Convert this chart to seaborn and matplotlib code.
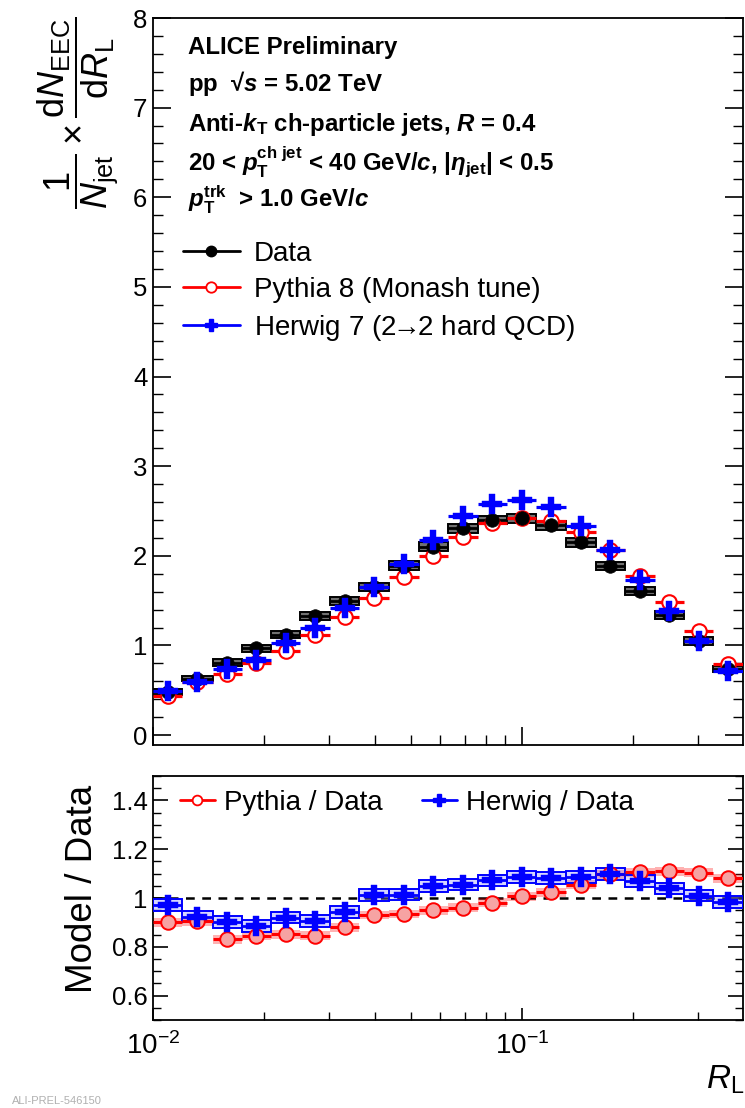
import numpy as np
import pandas as pd
import matplotlib
matplotlib.use("Agg")
import matplotlib.pyplot as plt
from matplotlib.lines import Line2D
from matplotlib.ticker import FixedLocator, FixedFormatter, NullFormatter, LogLocator
import seaborn as sns

# ---------------- data ----------------
rl_edges = [0.0100, 0.0120, 0.0145, 0.0174, 0.0209, 0.0251, 0.0302, 0.0363,
            0.0437, 0.0525, 0.0631, 0.0759, 0.0912, 0.1096, 0.1318, 0.1585,
            0.1905, 0.2291, 0.2754, 0.3311, 0.3981]
data_vals = [0.48, 0.63, 0.81, 0.97, 1.12, 1.33, 1.50, 1.65, 1.89, 2.10,
             2.31, 2.40, 2.42, 2.34, 2.15, 1.885, 1.61, 1.34, 1.05, 0.74]
data_sys = [0.03, 0.03, 0.035, 0.04, 0.04, 0.045, 0.045, 0.045, 0.05, 0.05,
            0.05, 0.05, 0.05, 0.05, 0.05, 0.045, 0.045, 0.04, 0.04, 0.035]
pythia_vals = [0.44, 0.59, 0.68, 0.81, 0.94, 1.12, 1.32, 1.535, 1.76, 2.00,
               2.21, 2.37, 2.42, 2.39, 2.27, 2.06, 1.78, 1.49, 1.16, 0.79]
herwig_vals = [0.49, 0.59, 0.74, 0.84, 1.03, 1.20, 1.42, 1.65, 1.91, 2.18,
               2.44, 2.58, 2.62, 2.54, 2.33, 2.06, 1.73, 1.38, 1.05, 0.71]
ratio_pythia = [0.90, 0.905, 0.83, 0.845, 0.852, 0.845, 0.88, 0.93, 0.934, 0.95,
                0.96, 0.98, 1.007, 1.023, 1.055, 1.097, 1.106, 1.11, 1.103, 1.08]
ratio_pythia_err = [0.018] * 20
ratio_herwig = [0.972, 0.924, 0.903, 0.886, 0.92, 0.906, 0.942, 1.011, 1.014, 1.048,
                1.055, 1.072, 1.087, 1.083, 1.087, 1.099, 1.069, 1.039, 1.01, 0.983]
ratio_herwig_err = [0.024] * 20

header_lines = [
    "ALICE Preliminary",
    r"pp  √$\mathbfit{s}$ = 5.02 TeV",
    r"Anti-$\mathbfit{k}_{\mathbf{T}}$ ch-particle jets, $\mathbfit{R}$ = 0.4",
    r"20 < $\mathbfit{p}_{\mathbf{T}}^{\mathbf{ch\ jet}}$ < 40 GeV/$\mathbfit{c}$, |$\mathbfit{\eta}_{\mathbf{jet}}$| < 0.5",
    r"$\mathbfit{p}_{\mathbf{T}}^{\mathbf{trk}}$  > 1.0 GeV/$\mathbfit{c}$",
]
legend_top = ["Data", "Pythia 8 (Monash tune)", r"Herwig 7 (2$\!\!\rightarrow\!\!$2 hard QCD)"]
legend_bottom = ["Pythia / Data", "Herwig / Data"]

# ---------------- style ----------------
sns.set_theme(style="ticks")
plt.rcParams["font.family"] = ["Liberation Sans", "DejaVu Sans"]
plt.rcParams["mathtext.fontset"] = "custom"
plt.rcParams["mathtext.rm"] = "Liberation Sans"
plt.rcParams["mathtext.it"] = "Liberation Sans:italic"
plt.rcParams["mathtext.bf"] = "Liberation Sans:bold"
if "mathtext.bfit" in plt.rcParams:
    plt.rcParams["mathtext.bfit"] = "Liberation Sans:bold:italic"
plt.rcParams["axes.linewidth"] = 1.3
for key in ["text.color", "axes.labelcolor", "axes.edgecolor", "xtick.color", "ytick.color"]:
    plt.rcParams[key] = "black"

edges = np.array(rl_edges)
lo, hi = edges[:-1], edges[1:]
centers = np.sqrt(lo * hi)
df = pd.DataFrame({"x": centers, "lo": lo, "hi": hi, "data": data_vals,
                   "sys": data_sys, "pythia": pythia_vals, "herwig": herwig_vals,
                   "rp": ratio_pythia, "rpe": ratio_pythia_err,
                   "rh": ratio_herwig, "rhe": ratio_herwig_err})
xerr = np.vstack([df.x - df.lo, df.hi - df.x])

RED = "#ff0000"
BLUE = "#0000ff"

fig = plt.figure(figsize=(7.45, 11.08), dpi=100)
W = 745.0
H = 1108.0
ax1 = fig.add_axes([153 / W, 1 - 745 / H, 590 / W, (745 - 18) / H])
ax2 = fig.add_axes([153 / W, 1 - 1020 / H, 590 / W, (1020 - 776) / H])

# ---------------- top panel ----------------
ax1.bar(df.lo, 2 * df.sys, bottom=df.data - df.sys, width=df.hi - df.lo, align="edge",
        facecolor="#707070", edgecolor="black", linewidth=1.4, zorder=2)
ax1.errorbar(df.x, df.data, xerr=xerr, fmt="none", ecolor="black", elinewidth=2.0, zorder=3)
ax1.errorbar(df.x, df.pythia, xerr=xerr, fmt="none", ecolor=RED, elinewidth=2.3, zorder=3)
ax1.errorbar(df.x, df.herwig, xerr=xerr, fmt="none", ecolor=BLUE, elinewidth=2.3, zorder=3)
sns.scatterplot(data=df, x="x", y="pythia", ax=ax1, marker="o", s=110, facecolor="white",
                edgecolor=RED, linewidth=1.5, zorder=4)
sns.scatterplot(data=df, x="x", y="data", ax=ax1, marker="o", s=95, color="black",
                edgecolor="black", linewidth=0.5, zorder=5)
sns.scatterplot(data=df, x="x", y="herwig", ax=ax1, marker="P", s=200, color=BLUE,
                edgecolor=BLUE, linewidth=0.3, zorder=6)

ax1.set_xscale("log")
ax1.set_xlim(0.01, rl_edges[-1])
ax1.set_ylim(-0.11, 8)
ax1.set_xlabel("")
ax1.set_ylabel("")
ax1.yaxis.set_major_locator(FixedLocator(range(0, 9)))
ax1.yaxis.set_minor_locator(FixedLocator(np.arange(-0.0, 8.01, 0.2)))
ax1.xaxis.set_major_locator(LogLocator(base=10))
ax1.xaxis.set_minor_locator(LogLocator(base=10, subs=np.arange(2, 10)))
ax1.xaxis.set_major_formatter(NullFormatter())
ax1.xaxis.set_minor_formatter(NullFormatter())
ax1.tick_params(axis="y", which="major", direction="in", length=13, width=1.2,
                labelsize=18.5, left=True, right=True, pad=4)
ax1.tick_params(axis="y", which="minor", direction="in", length=7.5, width=1.0,
                left=True, right=True)
ax1.tick_params(axis="x", which="major", direction="in", length=13, width=1.2, top=False)
ax1.tick_params(axis="x", which="minor", direction="in", length=7.5, width=1.0, top=False)

for i, line in enumerate(header_lines):
    yb = [54, 91, 131, 170, 208][i]
    ax1.text((188 - 153) / 590, 1 - (yb - 18) / 727, line, transform=ax1.transAxes,
             fontsize=17.3, fontweight="bold", ha="left", va="baseline", color="black")

h_data = Line2D([], [], color="black", lw=2, marker="o", ms=7.5, mfc="black", mec="black")
h_py = Line2D([], [], color=RED, lw=2, marker="o", ms=7.5, mfc="white", mec=RED, mew=1.3)
h_hw = Line2D([], [], color=BLUE, lw=2, marker="P", ms=9, mfc=BLUE, mec=BLUE)
ax1.legend([h_data, h_py, h_hw], legend_top, loc="upper left",
           bbox_to_anchor=((183 - 153) / 590, 1 - (241 - 18) / 727), frameon=False,
           fontsize=20, handlelength=2.05, handletextpad=0.5, labelspacing=0.36,
           borderpad=0, borderaxespad=0, labelcolor="black")

# ---------------- ratio panel ----------------
ax2.axhline(1.0, color="black", lw=1.8, ls=(0, (3.5, 3)), zorder=1)
ax2.bar(df.lo, 2 * df.rpe, bottom=df.rp - df.rpe, width=df.hi - df.lo, align="edge",
        facecolor=RED, alpha=0.3, edgecolor="none", zorder=2)
ax2.bar(df.lo, 2 * df.rhe, bottom=df.rh - df.rhe, width=df.hi - df.lo, align="edge",
        facecolor=(0.55, 0.55, 1.0, 0.35), edgecolor=BLUE, linewidth=1.4, zorder=3)
ax2.errorbar(df.x, df.rp, xerr=xerr, fmt="none", ecolor=RED, elinewidth=2.2, zorder=4)
ax2.errorbar(df.x, df.rh, xerr=xerr, fmt="none", ecolor=BLUE, elinewidth=2.0, zorder=5)
sns.scatterplot(data=df, x="x", y="rp", ax=ax2, marker="o", s=110, facecolor="#f6a3a3",
                edgecolor=RED, linewidth=1.4, zorder=6)
sns.scatterplot(data=df, x="x", y="rh", ax=ax2, marker="P", s=190, color=BLUE,
                edgecolor=BLUE, linewidth=0.3, zorder=7)

ax2.set_xscale("log")
ax2.set_xlim(0.01, rl_edges[-1])
ax2.set_ylim(0.5, 1.5)
ax2.set_xlabel("")
ax2.set_ylabel("")
ax2.yaxis.set_major_locator(FixedLocator([0.6, 0.8, 1.0, 1.2, 1.4]))
ax2.yaxis.set_major_formatter(FixedFormatter(["0.6", "0.8", "1", "1.2", "1.4"]))
ax2.yaxis.set_minor_locator(FixedLocator(np.arange(0.5, 1.501, 0.05)))
ax2.xaxis.set_major_locator(LogLocator(base=10))
ax2.xaxis.set_minor_locator(LogLocator(base=10, subs=np.arange(2, 10)))
ax2.xaxis.set_minor_formatter(NullFormatter())
ax2.tick_params(axis="y", which="major", direction="in", length=11, width=1.2,
                labelsize=18.5, left=True, right=True, pad=4)
ax2.tick_params(axis="y", which="minor", direction="in", length=6, width=1.0,
                left=True, right=True)
ax2.tick_params(axis="x", which="major", direction="in", length=9, width=1.2,
                labelsize=20, top=False, pad=9)
ax2.tick_params(axis="x", which="minor", direction="in", length=6, width=1.0, top=False)

h_rp = Line2D([], [], color=RED, lw=2, marker="o", ms=7, mfc="white", mec=RED, mew=1.3)
h_rh = Line2D([], [], color=BLUE, lw=2, marker="P", ms=9, mfc=BLUE, mec=BLUE)
ax2.legend([h_rp, h_rh], legend_bottom, loc="upper left", ncol=2,
           bbox_to_anchor=((180 - 153) / 590, 1 - (790 - 776) / 244), frameon=False,
           fontsize=20, handlelength=1.25, handletextpad=0.35, columnspacing=1.4,
           borderpad=0, borderaxespad=0, labelcolor="black")

# ---------------- axis titles ----------------
fig.text(78 / W, 1 - 16 / H,
         r"$\dfrac{1}{N_{\rm jet}}\times\dfrac{{\rm d}N_{\rm EEC}}{{\rm d}R_{\rm L}}$",
         rotation=90, ha="center", va="top", fontsize=26)
fig.text(83 / W, 1 - 889 / H, "Model / Data", rotation=90, ha="center", va="center",
         fontsize=26.5)
fig.text(744 / W, 1 - 1080 / H, r"$R_{\rm L}$", ha="right", va="center", fontsize=24)
fig.text(12 / W, 1 - 1106 / H, "ALI-PREL-546150", ha="left", va="bottom", fontsize=8,
         color="#b0b0b0")

fig.savefig("out.png", dpi=100)
